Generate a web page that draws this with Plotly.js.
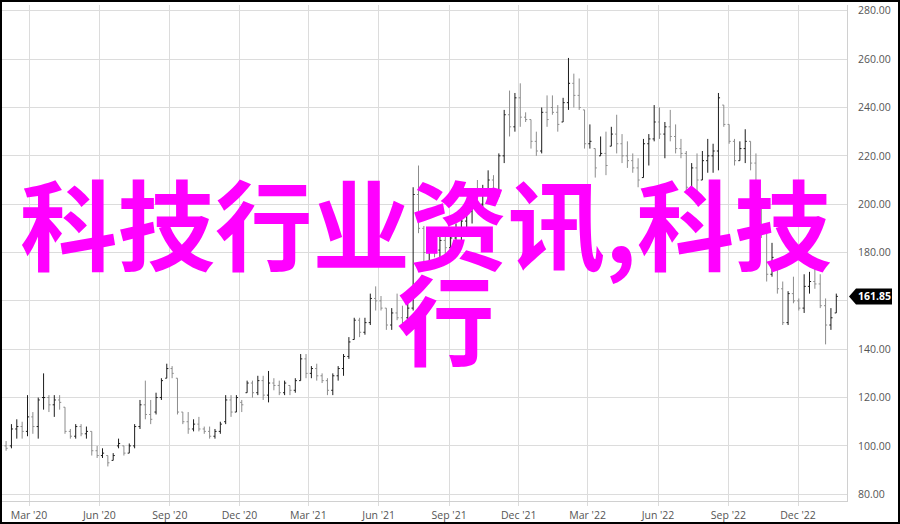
<!DOCTYPE html>
<html>
<head>
<meta charset="utf-8">
<script src="https://cdn.plot.ly/plotly-3.0.1.min.js"></script>
<style>
  html, body { margin: 0; padding: 0; background: #fff; }
  #wrap { position: relative; width: 900px; height: 524px; }
  #chart { position: absolute; left: 0; top: 0; width: 900px; height: 524px; }
  #frame { position: absolute; left: 0; top: 0; width: 900px; height: 524px; box-sizing: border-box; border: 2px solid #000; pointer-events: none; }
</style>
</head>
<body>
<div id="wrap"><div id="chart"></div><div id="frame"></div></div>
<script>
// Weekly bars, first week starting 2020-02-01
const firstWeek = '2020-01-31';
const opens = [100,100,107,108,106,112,108,120,120,117,119,116,106,104,108,105,106,98,96,96,94,100,100,97,100,108,117,113,114,120,128,132,128,114,110,107,109,107,106,104,106,110,119,114,118,122,126,122,127,121,126,125,122,125,123,127,136,130,132,129,127,123,129,132,137,144,152,147,151,161,160,157,150,155,153,153,157,204,190,180,184,181,185,182,186,190,193,197,203,200,206,210,204,220,237,232,244,236,235,226,222,238,240,238,234,242,250,245,239,225,223,220,221,224,229,225,220,218,215,211,225,227,234,229,232,228,223,221,207,215,210,218,220,222,241,233,226,218,223,226,217,198,188,171,176,165,151,163,160,157,166,168,167,158,150,155];
const highs = [102,109,111,110,121,114,120,130,121,121,121,116,107,109,109,108,106,100,99,96,97,103,100,101,109,119,127,119,122,128,134,133,128,114,114,111,112,108,108,107,110,121,121,121,119,127,127,129,129,131,128,127,127,125,128,138,138,133,134,130,128,130,133,138,145,153,153,153,163,166,162,157,157,163,158,160,207,216,191,186,189,187,190,188,192,195,199,205,210,208,214,212,221,239,247,246,250,238,235,230,240,245,245,241,244,260.5,254,252,239,233,223,228,230,232,237,229,226,221,219,227,229,241,240,234,239,233,227,222,217,221,222,227,225,246,241,233,227,226,231,226,221,198,192,184,176,168,164,170,161,171,172,174,171,161,157,163];
const lows = [98,99,103,103,104,105,103,115,114,112,115,105,103,103,104,103,96,95,95,91.5,94,99,96,97,99,107,111,109,113,119,128,128,113,109,105,106,106,105,103,103,105,109,112,114,114,122,120,121,119,118,123,121,121,121,122,127,128,128,127,126,121,121,127,129,136,144,145,146,150,156,156,148,148,152,148,152,156,188,176,175,178,176,179,177,181,185,188,192,197,198,201,201,203,217,228,230,232,234,223,220,221,232,237,230,234,239,240,239,223,223,211,220,212,224,221,217,215,213,207,211,216,226,227,219,226,221,219,205,203,204,210,213,213,214,232,225,216,218,217,214,196,186,168,170,163,150,150,159,156,155,163,165,157,142,148,155];
const closes = [99,107,108,106,112,108,119,120,117,119,118,106,104,108,105,106,98,96,97,93,96,101,97,100,108,117,113,111,120,127,132,130,114,110,107,109,107,106,104,106,109,119,114,120,117,126,122,127,121,126,125,122,126,123,127,136,130,132,129,127,123,129,132,137,143,152,147,151,161,160,157,150,155,153,151,157,204,190,180,184,181,185,182,186,190,193,197,203,200,206,210,204,220,237,232,244,236,235,226,222,238,235,238,233,242,250,245,240,225,226,215,221,216,229,225,220,218,215,210,225,227,234,229,232,228,223,221,207,215,210,218,220,222,244,233,226,218,223,226,217,198,188,171,178,165,151,163,160,157,166,168,167,158,150,153,161.85];
const lastPrice = 161.85;
const yTicks = [80,100,120,140,160,180,200,220,240,260,280];
const yTickText = ['80.00','100.00','120.00','140.00','','180.00','200.00','220.00','240.00','260.00','280.00'];
const overlayLine1 = '科技行业资讯,科技';
const overlayLine2 = '行';

const dates = [];
const d0 = new Date(firstWeek + 'T00:00:00Z');
for (let i = 0; i < opens.length; i++) {
  const d = new Date(d0.getTime() + i * 7 * 86400000);
  dates.push(d.toISOString().slice(0, 10));
}

const trace = {
  type: 'ohlc',
  x: dates, open: opens, high: highs, low: lows, close: closes,
  increasing: { line: { color: '#1c1c1c', width: 1 } },
  decreasing: { line: { color: '#8c8c8c', width: 1 } },
  tickwidth: 0.3,
  hoverinfo: 'skip'
};

const tickFont = { family: 'Open Sans, Noto Sans, sans-serif', size: 10.5, color: '#555' };

const layout = {
  width: 900, height: 524,
  margin: { l: 2, r: 53, t: 5, b: 23, pad: 0 },
  paper_bgcolor: '#fff', plot_bgcolor: '#fff',
  showlegend: false,
  xaxis: {
    type: 'date',
    range: ['2020-01-25 16:00', '2023-02-03'],
    tick0: '2020-03-01', dtick: 'M3', tickformat: "%b '%y",
    showgrid: true, gridcolor: '#dcdcdc', gridwidth: 1,
    showline: true, linecolor: '#d0d0d0', linewidth: 1,
    ticks: 'outside', ticklen: 4, tickcolor: '#dcdcdc',
    tickfont: tickFont,
    rangeslider: { visible: false },
    zeroline: false, fixedrange: true
  },
  yaxis: {
    side: 'right',
    range: [77.2, 282.4],
    tickvals: yTicks,
    ticktext: yTickText,
    showgrid: true, gridcolor: '#dcdcdc', gridwidth: 1,
    showline: true, linecolor: '#d0d0d0', linewidth: 1, mirror: false,
    ticks: 'outside', ticklen: 8, tickcolor: 'rgba(0,0,0,0)',
    tickfont: tickFont,
    zeroline: false, fixedrange: true
  },
  shapes: [
    {
      type: 'path', layer: 'above',
      xref: 'paper', xsizemode: 'pixel', xanchor: 1,
      yref: 'y', ysizemode: 'pixel', yanchor: lastPrice,
      path: 'M2,0 L9,8 L45,8 L45,-8 L9,-8 Z',
      fillcolor: '#000', line: { width: 0 }
    }
  ],
  annotations: [
    {
      xref: 'paper', yref: 'y', x: 1, y: lastPrice,
      xanchor: 'center', yanchor: 'middle', xshift: 27,
      text: '<b>' + lastPrice.toFixed(2) + '</b>', showarrow: false,
      font: { family: 'Open Sans, sans-serif', size: 10.5, color: '#fff' }
    },
    {
      xref: 'paper', yref: 'paper', x: 16 / 845, y: 0.566,
      xanchor: 'left', yanchor: 'middle',
      text: overlayLine1, showarrow: false,
      font: { family: 'Noto Sans CJK SC', size: 97.5, color: '#ff00ff', weight: 'bold' }
    },
    {
      xref: 'paper', yref: 'paper', x: 393 / 845, y: 0.375,
      xanchor: 'left', yanchor: 'middle',
      text: overlayLine2, showarrow: false,
      font: { family: 'Noto Sans CJK SC', size: 97.5, color: '#ff00ff', weight: 'bold' }
    }
  ]
};

Plotly.newPlot('chart', [trace], layout, { displayModeBar: false, staticPlot: true });
</script>
</body>
</html>
